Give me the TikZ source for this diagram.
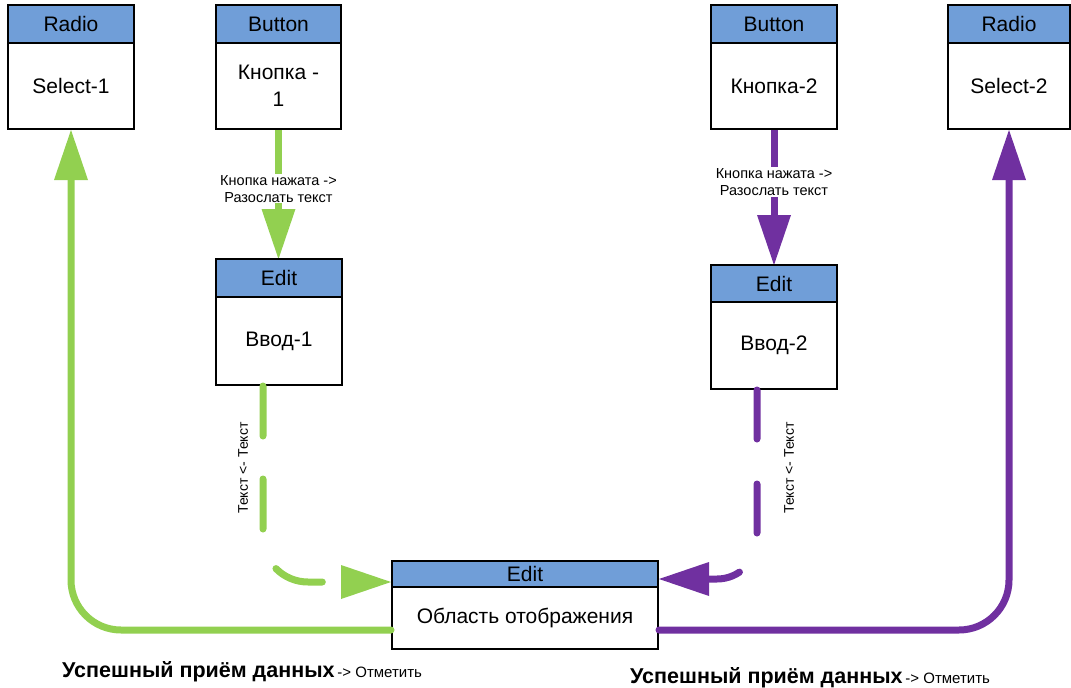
\documentclass[tikz,border=0pt]{standalone}
\usepackage{fontspec}
\setmainfont{Liberation Sans}
\usetikzlibrary{arrows.meta}
\definecolor{hdrblue}{RGB}{112,158,216}
\definecolor{sigGreen}{RGB}{146,208,80}
\definecolor{sigPurple}{RGB}{112,48,160}

\begin{document}
\begin{tikzpicture}[x=1pt,y=-1pt,
  hdr/.style={draw=black, line width=2pt, fill=hdrblue, inner sep=0pt,
    font=\fontsize{21}{25}\selectfont},
  bodybox/.style={draw=black, line width=2pt, fill=white, inner sep=0pt,
    align=center, font=\fontsize{21}{27}\selectfont},
  gline/.style={draw=sigGreen, line width=7pt, line cap=round},
  pline/.style={draw=sigPurple, line width=7pt, line cap=round},
  bigtip/.style={-{Triangle[length=50pt,width=34pt,line width=0pt]}},
  lbl/.style={fill=white, inner sep=1pt, align=center,
    font=\fontsize{14.5}{17}\selectfont},
  sidelbl/.style={inner sep=0pt, rotate=90, font=\fontsize{14}{17}\selectfont},
  okbig/.style={font=\bfseries\fontsize{21.5}{24}\selectfont},
  oksmall/.style={font=\fontsize{15}{17}\selectfont}
]
\useasboundingbox (0,0) rectangle (1071,688);

% connectors are drawn first so the boxes sit on top of their ends

% Кнопка-1 -> Ввод-1
\draw[gline, bigtip] (278.5,129) coordinate (g1a) -- node[lbl, pos=0.46] (g1lbl) {Кнопка нажата ->\\Разослать текст} (278.5,259) coordinate (g1b);
% Кнопка-2 -> Ввод-2
\draw[pline, bigtip] (774,129) coordinate (p1a) -- node[lbl, pos=0.39] (p1lbl) {Кнопка нажата ->\\Разослать текст} (774,265) coordinate (p1b);

% widget boxes: coloured type header above a white body
\node[hdr, minimum width=126pt, minimum height=38pt] (s1h) at (71,24) {Radio};
\node[bodybox, minimum width=126pt, minimum height=86pt] (s1) at (71,86) {Select-1};

\node[hdr, minimum width=125pt, minimum height=38pt] (k1h) at (278.5,24) {Button};
\node[bodybox, minimum width=125pt, minimum height=86pt] (k1) at (278.5,86) {Кнопка -\\1};

\node[hdr, minimum width=126pt, minimum height=38pt] (k2h) at (774,24) {Button};
\node[bodybox, minimum width=126pt, minimum height=86pt] (k2) at (774,86) {Кнопка-2};

\node[hdr, minimum width=122pt, minimum height=38pt] (s2h) at (1009,24) {Radio};
\node[bodybox, minimum width=122pt, minimum height=86pt] (s2) at (1009,86) {Select-2};

\node[hdr, minimum width=126pt, minimum height=38pt] (v1h) at (279,278) {Edit};
\node[bodybox, minimum width=126pt, minimum height=88pt] (v1) at (279,341) {Ввод-1};

\node[hdr, minimum width=126pt, minimum height=37pt] (v2h) at (774,283.5) {Edit};
\node[bodybox, minimum width=126pt, minimum height=87pt] (v2) at (774,345.5) {Ввод-2};

\node[hdr, minimum width=266pt, minimum height=26pt] (obh) at (525,574) {Edit};
\node[bodybox, minimum width=266pt, minimum height=62pt] (ob) at (525,618) {Область отображения};

% Ввод -> Область отображения (dashed)
\draw[gline, bigtip, dash pattern=on 50pt off 43pt, rounded corners=45pt]
  ([xshift=-16pt]v1.south) |- ([yshift=-8pt]obh.west);
\draw[pline, bigtip, dash pattern=on 49pt off 45pt, rounded corners=40pt]
  ([xshift=-17pt]v2.south) |- ([yshift=-5pt]obh.east);
\node[sidelbl] (g2lbl) at (243,468) {Текст <- Текст};
\node[sidelbl] (p2lbl) at (789,468) {Текст <- Текст};

% Область отображения -> Select
\draw[gline, bigtip, rounded corners=50pt]
  ([yshift=-12pt]ob.west) -| (s1.south);
\draw[pline, bigtip, rounded corners=50pt]
  ([yshift=-12pt]ob.east) -| (s2.south);

\node[anchor=base west, inner sep=0pt] (g3lbl) at (62,677)
  {{\bfseries\fontsize{21.5}{24}\selectfont Успешный приём данных} {\fontsize{15}{17}\selectfont -> Отметить}};
\node[anchor=base west, inner sep=0pt] (p3lbl) at (630,683)
  {{\bfseries\fontsize{21.5}{24}\selectfont Успешный приём данных} {\fontsize{15}{17}\selectfont -> Отметить}};
\end{tikzpicture}
\end{document}
